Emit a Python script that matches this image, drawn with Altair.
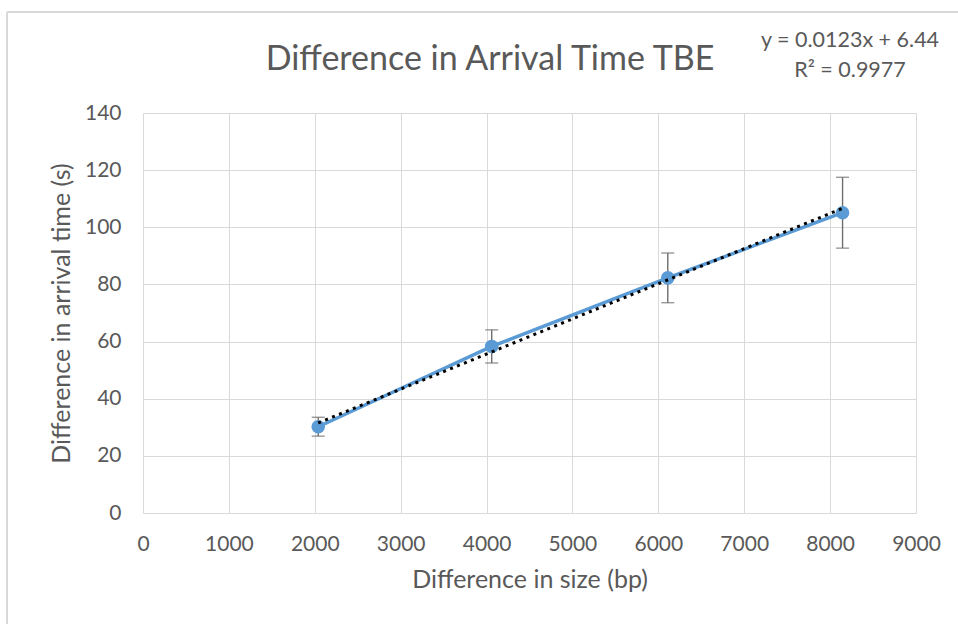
import altair as alt
import pandas as pd

# Measurements: fragment size difference vs. arrival time difference
size_bp = [2040, 4060, 6110, 8145]
arrival_s = [30.2, 58.3, 82.3, 105.1]
err_s = [3.3, 5.8, 8.7, 12.4]

# Linear trendline reported on the chart
slope = 0.0123
intercept = 6.44
r_squared = 0.9977

x_ticks = list(range(0, 9001, 1000))
y_ticks = list(range(0, 141, 20))

TEXT = "#595959"
GRID = "#d9d9d9"
BLUE = "#5b9bd5"
FONT = "Lato"

df = pd.DataFrame({
    "size": size_bp,
    "time": arrival_s,
    "lo": [v - e for v, e in zip(arrival_s, err_s)],
    "hi": [v + e for v, e in zip(arrival_s, err_s)],
})

trend = pd.DataFrame({
    "size": [min(size_bp), max(size_bp)],
})
trend["time"] = slope * trend["size"] + intercept

x_scale = alt.Scale(domain=[0, 9000], nice=False, zero=True)
y_scale = alt.Scale(domain=[0, 140], nice=False)

x_enc = alt.X(
    "size:Q", scale=x_scale,
    axis=alt.Axis(
        values=x_ticks, title="Difference in size (bp)", format="d",
        grid=True, gridColor=GRID, gridWidth=1, domain=False, ticks=False,
        labelFlush=False, labelOverlap=False,
        labelFont=FONT, labelFontSize=21, labelColor=TEXT, labelPadding=20,
        titleFont=FONT, titleFontSize=25, titleFontWeight="normal",
        titleColor=TEXT, titlePadding=13,
    ),
)
y_enc = alt.Y(
    "time:Q", scale=y_scale,
    axis=alt.Axis(
        values=y_ticks, title="Difference in  arrival time (s)", format="d",
        grid=True, gridColor=GRID, gridWidth=1, domain=False, ticks=False,
        labelFlush=False, labelOverlap=False,
        labelFont=FONT, labelFontSize=21, labelColor=TEXT, labelPadding=22,
        titleFont=FONT, titleFontSize=25, titleFontWeight="normal",
        titleColor=TEXT, titlePadding=10,
    ),
)

base = alt.Chart(df)

line = base.mark_line(color=BLUE, strokeWidth=3.5).encode(x=x_enc, y=y_enc)

errbars = base.mark_rule(color="#6e6e6e", strokeWidth=1.4).encode(
    x="size:Q", y="lo:Q", y2="hi:Q"
)
caps_hi = base.mark_tick(color="#6e6e6e", thickness=1.4, size=13, orient="horizontal").encode(
    x="size:Q", y="hi:Q"
)
caps_lo = base.mark_tick(color="#6e6e6e", thickness=1.4, size=13, orient="horizontal").encode(
    x="size:Q", y="lo:Q"
)

points = base.mark_point(filled=True, color=BLUE, size=185, opacity=1).encode(
    x="size:Q", y="time:Q"
)

trendline = alt.Chart(trend).mark_line(
    color="black", strokeWidth=3, strokeDash=[3, 4.5]
).encode(x="size:Q", y="time:Q")

title = alt.Chart(pd.DataFrame({"t": ["Difference in Arrival Time TBE"]})).mark_text(
    font=FONT, fontSize=34, color=TEXT, align="center", baseline="middle"
).encode(text="t:N", x=alt.value(347), y=alt.value(-53))

eq_lines = [f"y = {slope}x + {intercept}", f"R\u00b2 = {r_squared}"]
equation = alt.Chart(pd.DataFrame({"t": [eq_lines]})).mark_text(
    font=FONT, fontSize=21.5, color=TEXT, align="center", baseline="middle",
    lineHeight=30,
).encode(text="t", x=alt.value(707), y=alt.value(-72))

# Light outer frame of the chart area
frame_top = alt.Chart(df).mark_rule(color=GRID, strokeWidth=2).encode(
    x=alt.value(-136), x2=alt.value(820), y=alt.value(-101)
)
frame_left = alt.Chart(df).mark_rule(color=GRID, strokeWidth=2).encode(
    x=alt.value(-136), y=alt.value(-101), y2=alt.value(520)
)

chart = alt.layer(
    frame_top, frame_left, line, errbars, caps_hi, caps_lo, points, trendline,
    title, equation,
).properties(
    width=773, height=400,
    autosize=alt.AutoSizeParams(type="none"),
    padding={"left": 143, "top": 113, "right": 42, "bottom": 111},
    background="white",
).configure_view(stroke=None)

chart.save("out.html", embed_options={"renderer": "svg", "actions": False})
